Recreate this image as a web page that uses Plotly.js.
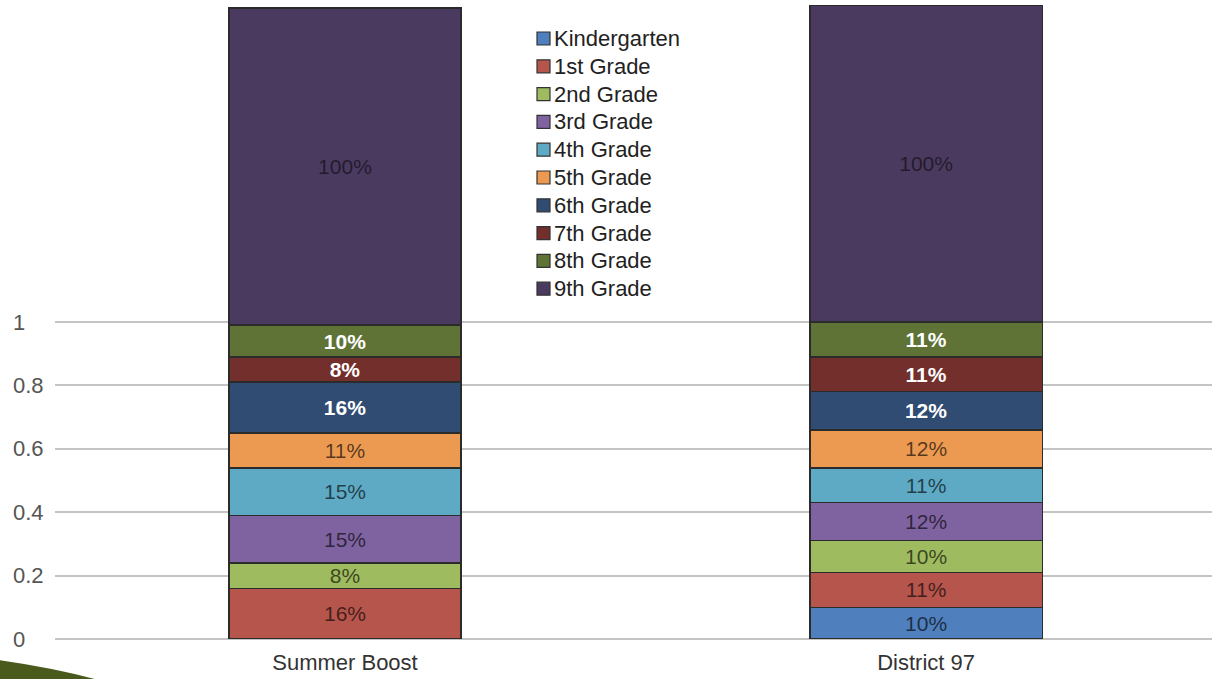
<!DOCTYPE html>
<html>
<head>
<meta charset="utf-8">
<script src="https://cdn.plot.ly/plotly-3.0.1.min.js"></script>
<style>
  html, body { margin: 0; padding: 0; background: #fff; }
  #chart { width: 1212px; height: 679px; }
</style>
</head>
<body>
<div id="chart"></div>
<script>
var schools = ["Summer Boost", "District 97"];
var grades = ["Kindergarten", "1st Grade", "2nd Grade", "3rd Grade", "4th Grade",
  "5th Grade", "6th Grade", "7th Grade", "8th Grade", "9th Grade"];

// share of students per grade, one array per school
var summerBoost = [null, 0.16, 0.08, 0.15, 0.15, 0.11, 0.16, 0.08, 0.10, 1.00];
var district97 = [0.10, 0.11, 0.10, 0.12, 0.11, 0.12, 0.12, 0.11, 0.11, 1.00];

var gradeColors = ["#4f7fbc", "#b5554c", "#9fbb5f", "#7f63a0", "#5eaac5",
  "#ec9a52", "#304c72", "#722f2c", "#5e7335", "#4a3a5f"];
var labelColors = ["rgba(0,0,0,0.65)", "rgba(0,0,0,0.65)", "rgba(0,0,0,0.65)",
  "rgba(0,0,0,0.65)", "rgba(0,0,0,0.65)", "rgba(0,0,0,0.65)",
  "#ffffff", "#ffffff", "#ffffff", "rgba(0,0,0,0.55)"];
var labelWeights = [400, 400, 400, 400, 400, 400, 700, 700, 700, 400];

var yTicks = [0, 0.2, 0.4, 0.6, 0.8, 1];

var font = "Liberation Sans, Arial, sans-serif";

var data = [];
for (var i = 0; i < grades.length; i++) {
  data.push({
    type: "bar",
    name: grades[i],
    x: schools,
    y: [summerBoost[i], district97[i]],
    texttemplate: "%{y:.0%}",
    textposition: "inside",
    insidetextanchor: "middle",
    constraintext: "none",
    textangle: 0,
    textfont: { family: font, size: 21, color: labelColors[i], weight: labelWeights[i] },
    marker: { color: gradeColors[i], line: { color: "#2b2b2b", width: 1.5 } },
    showlegend: false,
    hoverinfo: "name+y"
  });
}

// plot area is 55..1212 px wide, 5..639 px tall
function px(x) { return (x - 55) / 1157; }
function py(y) { return (639 - y) / 634; }

var annotations = yTicks.map(function (v) {
  return {
    xref: "paper", yref: "y", x: px(11), y: v,
    xanchor: "left", yanchor: "middle",
    text: String(v), showarrow: false,
    font: { family: font, size: 22, color: "#555" }
  };
});

var shapes = [{
  type: "path", xref: "paper", yref: "paper",
  path: "M " + px(-2) + "," + py(660) + " Q " + px(55) + "," + py(668) + " " +
    px(102) + "," + py(681) + " L " + px(-2) + "," + py(681) + " Z",
  fillcolor: "#4a5a1c", line: { width: 0 }
}];

// legend drawn by hand so the row spacing matches the original
for (var j = 0; j < grades.length; j++) {
  var cy = 38.5 + j * 27.8;
  shapes.push({
    type: "rect", xref: "paper", yref: "paper",
    x0: px(537), x1: px(550), y0: py(cy + 6.5), y1: py(cy - 6.5),
    fillcolor: gradeColors[j], line: { color: "#333", width: 1.2 }
  });
  annotations.push({
    xref: "paper", yref: "paper", x: px(552), y: py(cy),
    xanchor: "left", yanchor: "middle",
    text: grades[j], showarrow: false,
    font: { family: font, size: 22, color: "#222" }
  });
}

var layout = {
  width: 1212,
  height: 679,
  margin: { l: 55, r: 0, t: 5, b: 40 },
  paper_bgcolor: "#fff",
  plot_bgcolor: "#fff",
  barmode: "stack",
  bargap: 0.6,
  showlegend: false,
  xaxis: {
    type: "category",
    range: [-0.499, 1.492],
    showgrid: false, showline: false, zeroline: false,
    ticks: "",
    ticklabelstandoff: 8,
    tickfont: { family: font, size: 22, color: "#333" }
  },
  yaxis: {
    range: [0, 2.0],
    tickvals: yTicks,
    showticklabels: false,
    showgrid: true, gridcolor: "#c4c4c4", gridwidth: 2,
    zeroline: true, zerolinecolor: "#c4c4c4", zerolinewidth: 2,
    showline: false, ticks: ""
  },
  annotations: annotations,
  shapes: shapes
};

Plotly.newPlot("chart", data, layout, { staticPlot: true });
</script>
</body>
</html>
